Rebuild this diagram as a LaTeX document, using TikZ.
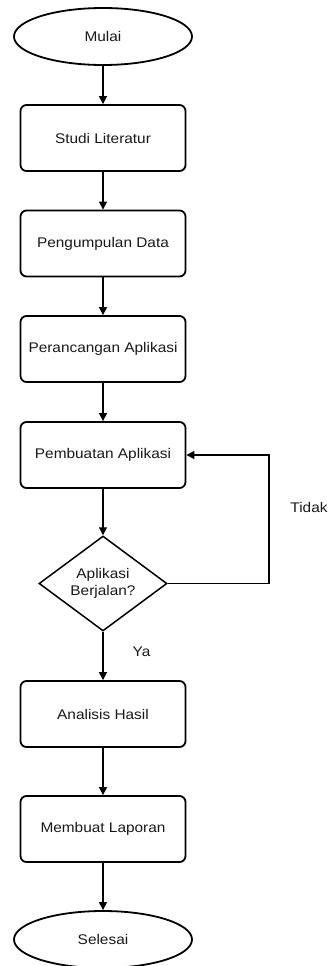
\documentclass[tikz,border=0pt]{standalone}
\usepackage{fontspec}
\setmainfont{Liberation Sans}[FakeStretch=1.1]
\usetikzlibrary{shapes.geometric,arrows.meta}
\begin{document}
\begin{tikzpicture}[x=1pt,y=-1pt,
  every node/.style={font=\fontsize{14}{16.5}\selectfont, text=black!90, align=center},
  terminal/.style={ellipse, draw, line width=1.8pt, minimum width=178pt, minimum height=57pt, inner sep=0pt},
  process/.style={rectangle, rounded corners=6pt, draw, line width=1.8pt, minimum width=165pt, minimum height=66pt, inner sep=0pt},
  decision/.style={diamond, draw, line width=1.5pt, minimum width=128pt, minimum height=95pt, inner sep=0pt},
  flow/.style={line width=1.2pt, -{Triangle[width=8pt,length=8pt]}},
  lbl/.style={inner sep=0pt}]
  \useasboundingbox (0,0) rectangle (329,966);
  \clip (0,0) rectangle (329,966);

  \node[terminal] (mulai) at (103,36.5) {Mulai};
  \node[process] (studi) at (103,138) {Studi Literatur};
  \node[process] (kumpul) at (103,243.5) {Pengumpulan Data};
  \node[process] (rancang) at (103,349) {Perancangan Aplikasi};
  \node[process] (buat) at (103,455) {Pembuatan Aplikasi};
  \node[decision] (cek) at (103,583.5) {Aplikasi\\Berjalan?};
  \node[process] (analisis) at (103,714) {Analisis Hasil};
  \node[process] (lapor) at (103,829) {Membuat Laporan};
  \node[terminal] (selesai) at (103,939.5) {Selesai};

  \coordinate (loopbot) at (269,583.5);
  \coordinate (looptop) at (269,455);

  \draw[flow] (mulai) -- (studi);
  \draw[flow] (studi) -- (kumpul);
  \draw[flow] (kumpul) -- (rancang);
  \draw[flow] (rancang) -- (buat);
  \draw[flow] (buat) -- (cek);
  \draw[flow] (cek) -- (analisis);
  \draw[flow] (analisis) -- (lapor);
  \draw[flow] (lapor) -- (selesai);
  \draw[flow] (cek.east) -- (loopbot) -- (looptop) -- (buat.east);

  \node[lbl] (tidak) at (309,507) {Tidak};
  \node[lbl] (ya) at (141.5,652) {Ya};
\end{tikzpicture}
\end{document}
